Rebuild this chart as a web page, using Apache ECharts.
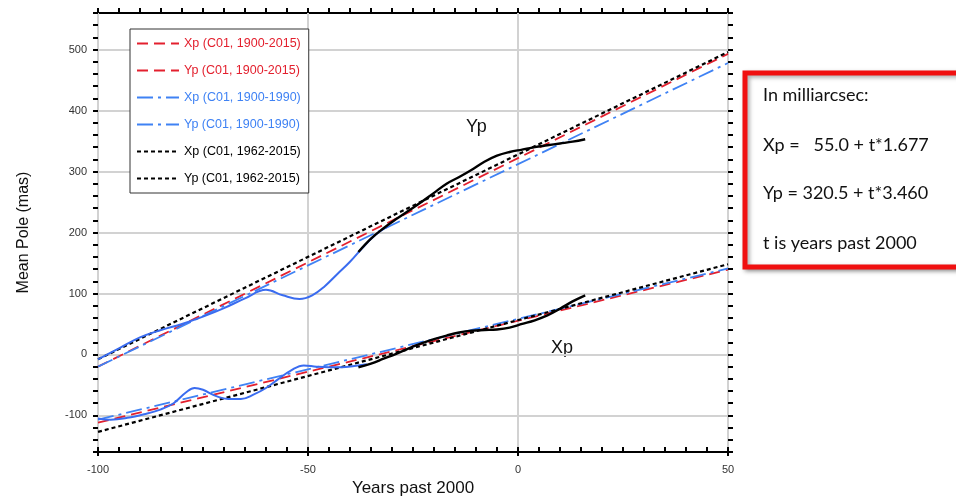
<!DOCTYPE html>
<html>
<head>
<meta charset="utf-8">
<script src="https://cdn.jsdelivr.net/npm/echarts@6/dist/echarts.min.js"></script>
<style>
  html, body { margin: 0; padding: 0; background: #fff; }
  #main { width: 956px; height: 502px; }
</style>
</head>
<body>
<div id="main"></div>
<script>
// linear fits, end points at t = -100 and t = 50
var fitYears = [-100, 50];
var xpFitAll = [-112, 139];         // C01, 1900-2015
var ypFitAll = [-20, 493];
var xpFitEarly = [-107, 141];       // C01, 1900-1990
var ypFitEarly = [-20, 478];
var xpFitLate = [-127, 148];        // C01, 1962-2015
var ypFitLate = [-8, 496];

// mean pole, early part (blue)
var earlyYearsX = [-100, -97, -93, -89, -85, -82, -79, -77, -75, -72, -69, -66, -63, -60, -57, -54, -51, -48, -45, -42, -39, -36];
var earlyXp = [-105, -107, -104, -98, -90, -80, -62, -55, -58, -68, -73, -73, -66, -55, -40, -26, -18, -20, -21, -21, -19, -16];
var earlyYearsY = [-100, -95, -90, -85, -80, -75, -70, -65, -60, -56, -52, -49, -46, -43, -40, -37, -34, -31];
var earlyYp = [-8, 10, 28, 40, 50, 62, 76, 92, 106, 97, 91, 97, 112, 132, 152, 175, 196, 210];

// mean pole, 1962-2015 (black)
var lateYears = [-38, -35, -32, -29, -26, -23, -20, -17, -14, -11, -8, -5, -2, 1, 4, 7, 10, 13, 16];
var lateXp = [-21, -15, -7, 1, 10, 18, 25, 31, 36, 39, 40, 41, 44, 50, 56, 64, 75, 87, 97];
var lateYp = [168, 190, 207, 222, 236, 250, 265, 280, 291, 303, 316, 326, 332, 336, 340, 343, 346, 349, 353];

var RED = '#e3202e';
var BLUE = '#3a6cf0';
var BLUE2 = '#3f82f4';

function zip(xs, ys) {
    var out = [];
    for (var i = 0; i < xs.length; i++) {
        out.push([xs[i], ys[i]]);
    }
    return out;
}

function fitLine(name, ys, color, dash, width) {
    return {
        name: name,
        type: 'line',
        data: zip(fitYears, ys),
        symbol: 'none',
        lineStyle: { color: color, type: dash, width: width },
        itemStyle: { color: color },
        z: 3
    };
}

function curve(xs, ys, color, width) {
    return {
        type: 'line',
        data: zip(xs, ys),
        symbol: 'none',
        smooth: 0.4,
        lineStyle: { color: color, width: width },
        z: 5
    };
}

var myChart = echarts.init(document.getElementById('main'));

var labelFont = { fontFamily: 'Liberation Sans', fontSize: 11, color: '#333' };
var yGridColors = ['transparent', 'transparent', 'transparent', '#d2d2d2', 'transparent'];
var noLine = { show: false, onZero: false };

var option = {
    backgroundColor: '#fff',
    animation: false,
    grid: {
        left: 98, right: 228, top: 13, bottom: 42,
        show: true, borderColor: '#000', borderWidth: 2, backgroundColor: 'transparent'
    },
    legend: {
        orient: 'vertical',
        left: 130, top: 29,
        padding: [8, 8, 8, 6],
        itemGap: 14,
        itemWidth: 42, itemHeight: 14,
        backgroundColor: '#fff',
        borderColor: '#333', borderWidth: 1,
        itemStyle: { opacity: 0 },
        textStyle: { fontFamily: 'Liberation Sans', fontSize: 12.5 },
        data: [
            { name: 'Xp (C01, 1900-2015)', textStyle: { color: RED } },
            { name: 'Yp (C01, 1900-2015)', textStyle: { color: RED } },
            { name: 'Xp (C01, 1900-1990)', textStyle: { color: BLUE2 } },
            { name: 'Yp (C01, 1900-1990)', textStyle: { color: BLUE2 } },
            { name: 'Xp (C01, 1962-2015)', textStyle: { color: '#000' } },
            { name: 'Yp (C01, 1962-2015)', textStyle: { color: '#000' } }
        ]
    },
    xAxis: [
        {
            type: 'value', position: 'bottom', min: -100, max: 50, interval: 50,
            name: 'Years past 2000', nameLocation: 'middle', nameGap: 28,
            nameTextStyle: { fontFamily: 'Liberation Sans', fontSize: 17, color: '#111' },
            axisLine: noLine,
            axisTick: { inside: true, length: 5, lineStyle: { color: '#000', width: 2 } },
            minorTick: { show: true, splitNumber: 10, length: 5, lineStyle: { color: '#000', width: 2 } },
            axisLabel: Object.assign({ margin: 12 }, labelFont),
            splitLine: { show: true, lineStyle: { color: '#d2d2d2', width: 2 } }
        },
        {
            type: 'value', position: 'bottom', min: -100, max: 50, interval: 50,
            axisLine: noLine,
            axisTick: { inside: false, length: 4, lineStyle: { color: '#000', width: 2 } },
            axisLabel: { show: false },
            splitLine: { show: false }
        },
        {
            type: 'value', position: 'top', min: -100, max: 50, interval: 50,
            axisLine: noLine,
            axisTick: { inside: false, length: 5, lineStyle: { color: '#000', width: 2 } },
            minorTick: { show: true, splitNumber: 10, length: 5, lineStyle: { color: '#000', width: 2 } },
            axisLabel: { show: false },
            splitLine: { show: false }
        }
    ],
    yAxis: [
        {
            type: 'value', position: 'left', min: -160, max: 560, interval: 20,
            name: 'Mean Pole (mas)', nameLocation: 'middle', nameGap: 66,
            nameTextStyle: { fontFamily: 'Liberation Sans', fontSize: 16, color: '#111' },
            axisLine: noLine,
            axisTick: { inside: false, length: 5, lineStyle: { color: '#000', width: 2 } },
            axisLabel: Object.assign({
                margin: 11,
                formatter: function (v) { return v % 100 === 0 ? String(v) : ''; }
            }, labelFont),
            splitLine: { show: true, lineStyle: { color: yGridColors, width: 2 } }
        },
        {
            type: 'value', position: 'right', min: -160, max: 560, interval: 20,
            axisLine: noLine,
            axisTick: { inside: false, length: 5, lineStyle: { color: '#000', width: 2 } },
            axisLabel: { show: false },
            splitLine: { show: false }
        }
    ],
    series: [
        fitLine('Xp (C01, 1900-2015)', xpFitAll, RED, [11, 6], 1.8),
        fitLine('Yp (C01, 1900-2015)', ypFitAll, RED, [11, 6], 1.8),
        fitLine('Xp (C01, 1900-1990)', xpFitEarly, BLUE2, [16, 5, 3, 5], 1.8),
        fitLine('Yp (C01, 1900-1990)', ypFitEarly, BLUE2, [16, 5, 3, 5], 1.8),
        fitLine('Xp (C01, 1962-2015)', xpFitLate, '#000', [4, 3], 2.2),
        fitLine('Yp (C01, 1962-2015)', ypFitLate, '#000', [4, 3], 2.2),
        curve(earlyYearsX, earlyXp, BLUE, 2),
        curve(earlyYearsY, earlyYp, BLUE, 2),
        curve(lateYears, lateXp, '#000', 2.4),
        curve(lateYears, lateYp, '#000', 2.4)
    ],
    graphic: [
        { type: 'text', left: 466, top: 118, style: { text: 'Yp', font: '18px "Liberation Sans"', fill: '#111' } },
        { type: 'text', left: 551, top: 339, style: { text: 'Xp', font: '18px "Liberation Sans"', fill: '#111' } },
        {
            type: 'rect', z: 10,
            shape: { x: 745, y: 73, width: 220, height: 194 },
            style: {
                fill: '#fff', stroke: '#f01010', lineWidth: 5,
                shadowBlur: 4, shadowColor: 'rgba(0,0,0,0.35)', shadowOffsetX: 2, shadowOffsetY: 2
            }
        },
        { type: 'text', z: 11, x: 763, y: 95, style: { text: 'In milliarcsec:', font: '18px Lato', fill: '#111', verticalAlign: 'middle' } },
        { type: 'text', z: 11, x: 763, y: 145, style: { text: 'Xp =   55.0 + t*1.677', font: '18px Lato', fill: '#111', verticalAlign: 'middle' } },
        { type: 'text', z: 11, x: 763, y: 193, style: { text: 'Yp = 320.5 + t*3.460', font: '18px Lato', fill: '#111', verticalAlign: 'middle' } },
        { type: 'text', z: 11, x: 763, y: 243, style: { text: 't is years past 2000', font: '18px Lato', fill: '#111', verticalAlign: 'middle' } }
    ]
};

myChart.setOption(option);
</script>
</body>
</html>
